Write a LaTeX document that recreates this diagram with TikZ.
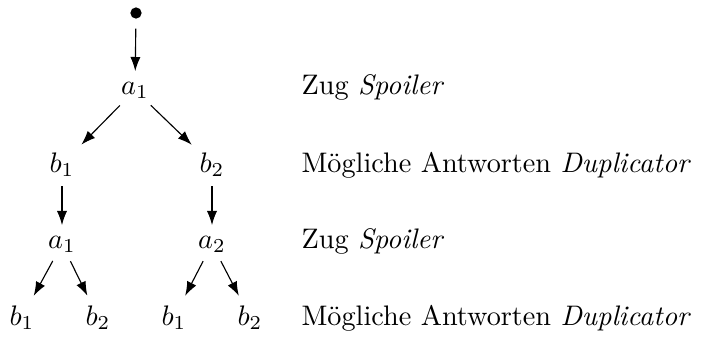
\documentclass[tikz,border=0pt]{standalone}
\usetikzlibrary{arrows.meta}
\begin{document}
\begin{tikzpicture}[x=0.354pt,y=-0.354pt,
  tn/.style={inner sep=0pt,anchor=base},
  lbl/.style={anchor=base west,inner sep=0pt},
  edge/.style={-{Latex[length=5pt,width=3.6pt]},shorten <=3.3pt,shorten >=3.6pt}]
\useasboundingbox (0,0) rectangle (709,338);
\node[circle,fill,inner sep=0pt,minimum size=4pt] (r) at (136,13) {};
\node[tn] (a) at (135,94) {$a_1$};
\node[tn] (b1) at (62,172) {$b_1$};
\node[tn] (b2) at (212,172) {$b_2$};
\node[tn] (c1) at (62,248) {$a_1$};
\node[tn] (c2) at (212,248) {$a_2$};
\node[tn] (d1) at (22,325) {$b_1$};
\node[tn] (d2) at (98,325) {$b_2$};
\node[tn] (d3) at (174,325) {$b_1$};
\node[tn] (d4) at (250,325) {$b_2$};
\draw[edge] (r) -- (a);
\draw[edge] (a) -- (b1);
\draw[edge] (a) -- (b2);
\draw[edge] (b1) -- (c1);
\draw[edge] (b2) -- (c2);
\draw[edge] (c1) -- (d1);
\draw[edge] (c1) -- (d2);
\draw[edge] (c2) -- (d3);
\draw[edge] (c2) -- (d4);
\node[lbl] (l1) at (301,94) {Zug \textit{Spoiler}};
\node[lbl] (l2) at (301,172) {Mögliche Antworten \textit{Duplicator}};
\node[lbl] (l3) at (301,248) {Zug \textit{Spoiler}};
\node[lbl] (l4) at (301,325) {Mögliche Antworten \textit{Duplicator}};
\end{tikzpicture}
\end{document}
